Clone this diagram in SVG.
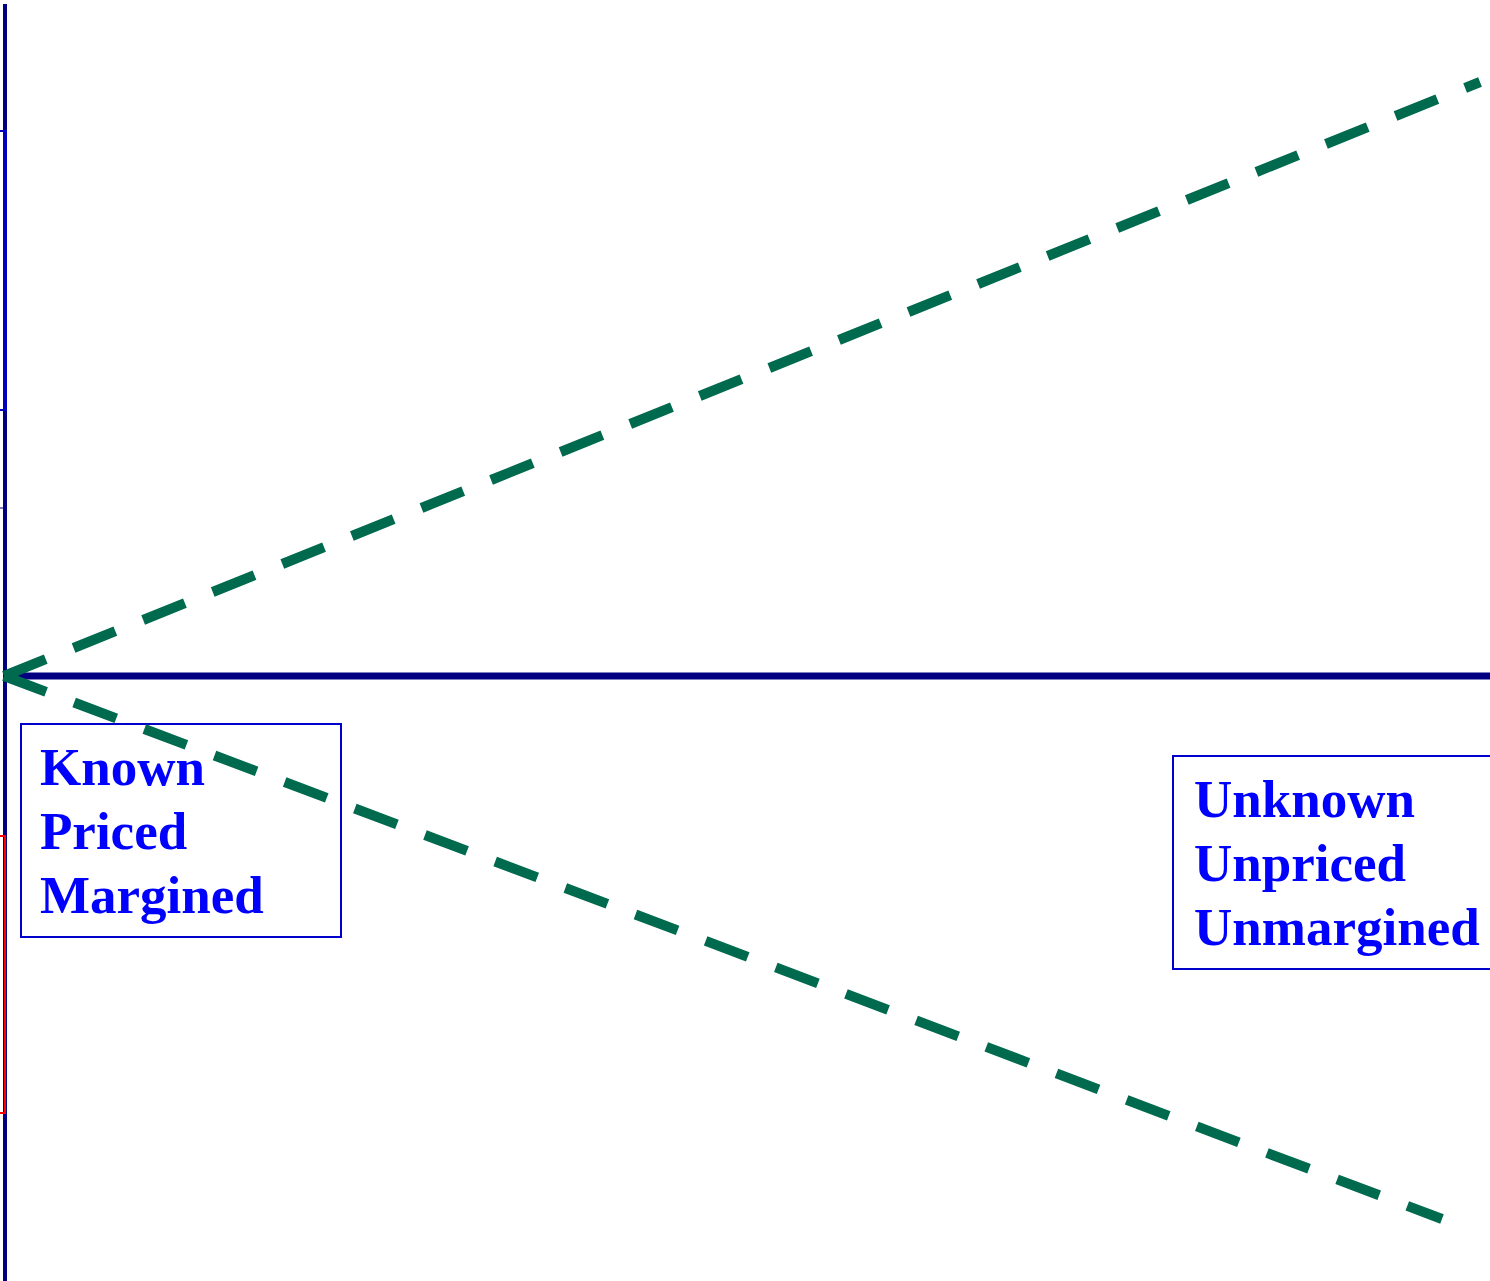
<svg xmlns="http://www.w3.org/2000/svg" width="1490" height="1281" viewBox="0 0 1490 1281">
<style>
.axis{stroke:#000080;fill:none}
.dash{stroke:#006a4e;stroke-width:10;stroke-dasharray:45 30;fill:none}
.box{fill:none;stroke:#0000cc;stroke-width:2}
.lbl{font-family:"Liberation Serif","Times New Roman",serif;font-weight:bold;font-size:53px;fill:#0000ff}
</style>
<rect width="1490" height="1281" fill="#fff"/>
<g id="axes">
<line class="axis" x1="5" y1="4" x2="5" y2="1281" stroke-width="4"/>
<line x1="5" y1="131" x2="5" y2="410" stroke="#0000c0" stroke-width="4"/>
<line x1="0" y1="131" x2="7" y2="131" stroke="#0000c0" stroke-width="2"/>
<line x1="0" y1="410" x2="7" y2="410" stroke="#0000c0" stroke-width="2"/>
<line x1="0" y1="508" x2="7" y2="508" stroke="#000080" stroke-width="1"/>
<polyline points="0,836 5,836 5,1113 0,1113" fill="none" stroke="#ff0000" stroke-width="2"/>
</g>
<g id="node-known">
<rect class="box" x="21" y="724" width="320" height="213"/>
<text class="lbl" x="40" y="785">Known</text>
<text class="lbl" x="40" y="849">Priced</text>
<text class="lbl" x="40" y="913">Margined</text>
</g>
<g id="node-unknown">
<rect class="box" x="1173" y="756" width="330" height="213"/>
<text class="lbl" x="1194" y="817">Unknown</text>
<text class="lbl" x="1194" y="881">Unpriced</text>
<text class="lbl" x="1194" y="945">Unmargined</text>
</g>
<g id="connectors">
<line class="axis" x1="5" y1="676" x2="1490" y2="676" stroke-width="7"/>
<line class="dash" x1="4" y1="676" x2="1480" y2="82"/>
<line class="dash" x1="4" y1="676" x2="1442" y2="1219"/>
</g>
</svg>
